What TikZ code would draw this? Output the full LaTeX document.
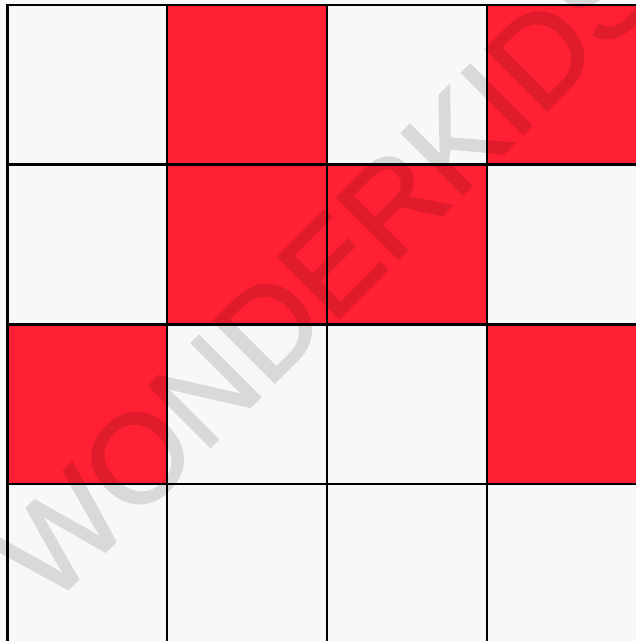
\documentclass[tikz,border=0pt]{standalone}
\usepackage{fontspec}
\setmainfont{Liberation Sans}
\newfontfamily\wmfont[FakeBold=1.6]{Liberation Sans}
\definecolor{cellred}{RGB}{255,32,51}
\definecolor{cellwhite}{RGB}{247,248,250}
\tikzset{
  redcell/.style={fill=cellred},
  gridline/.style={black,line width=2.4pt},
  wmark/.style={text=black,font=\wmfont\fontsize{126}{126}\selectfont,rotate=45,inner sep=0pt}
}
\begin{document}
\begin{tikzpicture}[x=1pt,y=-1pt]
\useasboundingbox (0,0) rectangle (636,641);
\fill[cellwhite] (0,0) rectangle (636,641);
% red cells (col,row)
\foreach \c/\r in {1/0,3/0,1/1,2/1,0/2,3/2}{
  \fill[redcell] (7.5+160*\c,5+159.7*\r) rectangle (7.5+160*\c+160,5+159.7*\r+159.7);
}
\begin{scope}[transparency group,opacity=0.12]
\node[wmark] (wm) at (326,270) {WONDERKIDS};
\end{scope}
% grid lines
\foreach \x in {7.5,167.2,327,487}{
  \draw[gridline] (\x,3.8) -- (\x,641);
}
\foreach \y in {5,164.5,324.3,484}{
  \draw[gridline] (6.3,\y) -- (636,\y);
}
\end{tikzpicture}
\end{document}
